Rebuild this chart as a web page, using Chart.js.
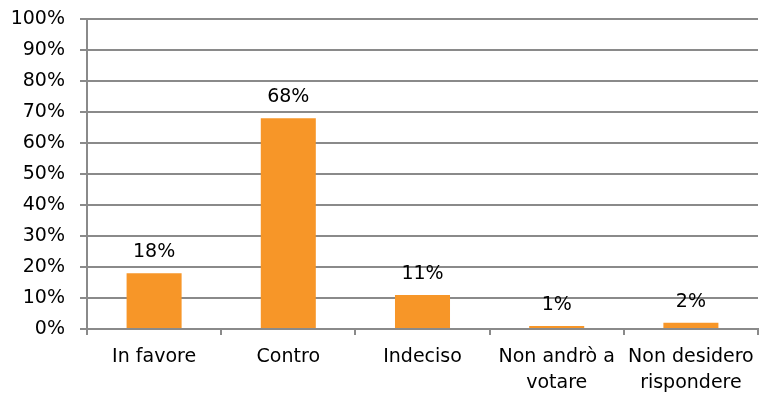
<!DOCTYPE html>
<html>
<head>
<meta charset="utf-8">
<script src="https://cdn.jsdelivr.net/npm/chart.js@4"></script>
<style>
  html, body { margin: 0; padding: 0; background: #fff; }
  #wrap { width: 761px; height: 394px; position: relative; }
</style>
</head>
<body>
<div id="wrap"><canvas id="sondaggio"></canvas></div>
<script>
const categories = ['In favore', 'Contro', 'Indeciso', ['Non andrò a', 'votare'], ['Non desidero', 'rispondere']];
const percentuali = [18, 68, 11, 1, 2];
const yTicks = [0, 10, 20, 30, 40, 50, 60, 70, 80, 90, 100];

const FONT = 'DejaVu Sans, Verdana, sans-serif';
const GRID = '#8a8a8a';

// writes the percentage above every bar
const barLabels = {
    id: 'barLabels',
    afterDatasetsDraw(chart) {
        const ctx = chart.ctx;
        const meta = chart.getDatasetMeta(0);
        ctx.save();
        ctx.font = '19px ' + FONT;
        ctx.fillStyle = '#000';
        ctx.textAlign = 'center';
        ctx.textBaseline = 'alphabetic';
        meta.data.forEach((bar, i) => {
            ctx.fillText(percentuali[i] + '%', bar.x, bar.y - 16);
        });
        ctx.restore();
    }
};

new Chart(document.getElementById('sondaggio').getContext('2d'), {
    type: 'bar',
    data: {
        labels: categories,
        datasets: [{
            data: percentuali,
            backgroundColor: '#F79628',
            borderWidth: 0,
            categoryPercentage: 1,
            barPercentage: 0.41
        }]
    },
    options: {
        responsive: true,
        maintainAspectRatio: false,
        animation: false,
        layout: { padding: { top: 19, right: 3, left: 0, bottom: 0 } },
        plugins: { legend: { display: false }, tooltip: { enabled: false } },
        scales: {
            x: {
                offset: true,
                grid: { offset: true, drawOnChartArea: false, color: GRID, lineWidth: 2, tickLength: 6 },
                border: { color: GRID, width: 2 },
                ticks: { color: '#000', font: { family: FONT, size: 19, lineHeight: 1.37 }, padding: 9, maxRotation: 0 },
                afterFit: (s) => { s.height = 65; s.paddingLeft = 0; s.paddingRight = 0; }
            },
            y: {
                min: 0,
                max: 100,
                afterBuildTicks: (s) => { s.ticks = yTicks.map(v => ({ value: v })); },
                grid: { color: GRID, lineWidth: 2, tickLength: 7 },
                border: { color: GRID, width: 2 },
                ticks: {
                    color: '#000',
                    font: { family: FONT, size: 19 },
                    padding: 15,
                    callback: (v) => v + '%'
                },
                afterFit: (s) => { s.width = 87; s.paddingTop = 0; s.paddingBottom = 0; }
            }
        }
    },
    plugins: [barLabels]
});
</script>
</body>
</html>
